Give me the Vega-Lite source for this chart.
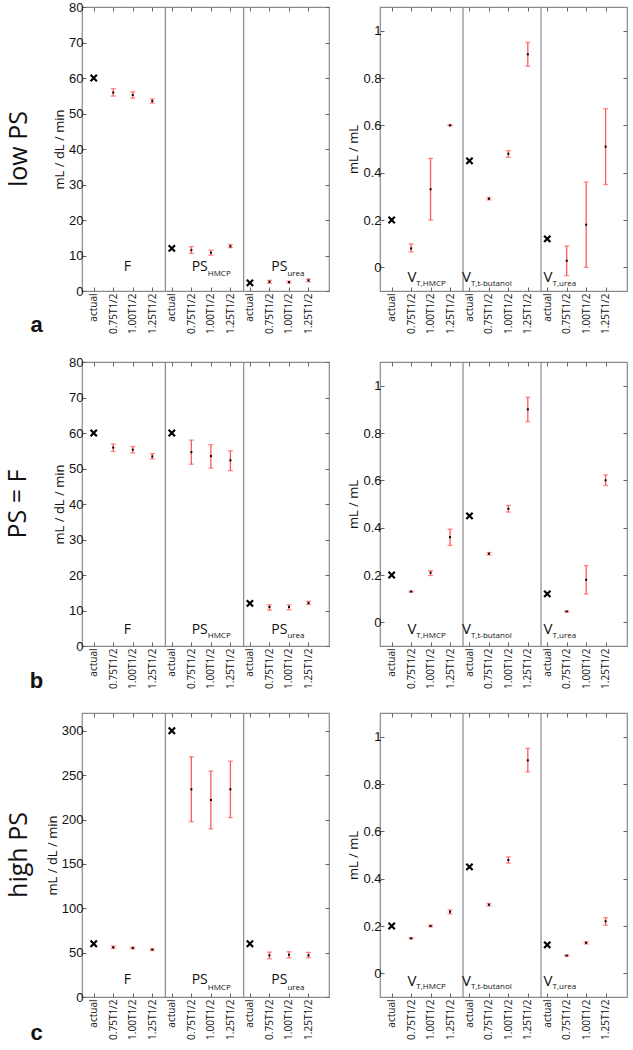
{
  "$schema": "https://vega.github.io/schema/vega-lite/v6.json",
  "padding": {"left": 5, "top": 0, "right": 0, "bottom": 0},
  "background": "white",
  "datasets": {
    "pts": [
      {"row":"a","side":"L","pos":1,"kind":"actual","v":60},
      {"row":"a","side":"L","pos":2,"kind":"est","v":55.9,"lo":54.9,"hi":57.0},
      {"row":"a","side":"L","pos":3,"kind":"est","v":55.2,"lo":54.3,"hi":56.1},
      {"row":"a","side":"L","pos":4,"kind":"est","v":53.5,"lo":52.9,"hi":54.1},
      {"row":"a","side":"L","pos":5,"kind":"actual","v":12},
      {"row":"a","side":"L","pos":6,"kind":"est","v":11.5,"lo":10.6,"hi":12.5},
      {"row":"a","side":"L","pos":7,"kind":"est","v":10.8,"lo":10.1,"hi":11.5},
      {"row":"a","side":"L","pos":8,"kind":"est","v":12.6,"lo":12.2,"hi":13.1},
      {"row":"a","side":"L","pos":9,"kind":"actual","v":2.3},
      {"row":"a","side":"L","pos":10,"kind":"est","v":2.6,"lo":2.2,"hi":3.0},
      {"row":"a","side":"L","pos":11,"kind":"est","v":2.5,"lo":2.2,"hi":2.8},
      {"row":"a","side":"L","pos":12,"kind":"est","v":3.0,"lo":2.6,"hi":3.4},
      {"row":"a","side":"R","pos":1,"kind":"actual","v":0.2},
      {"row":"a","side":"R","pos":2,"kind":"est","v":0.08,"lo":0.065,"hi":0.099},
      {"row":"a","side":"R","pos":3,"kind":"est","v":0.33,"lo":0.2,"hi":0.46},
      {"row":"a","side":"R","pos":4,"kind":"est","v":0.6,"lo":0.598,"hi":0.602},
      {"row":"a","side":"R","pos":5,"kind":"actual","v":0.45},
      {"row":"a","side":"R","pos":6,"kind":"est","v":0.29,"lo":0.285,"hi":0.295},
      {"row":"a","side":"R","pos":7,"kind":"est","v":0.48,"lo":0.465,"hi":0.493},
      {"row":"a","side":"R","pos":8,"kind":"est","v":0.9,"lo":0.85,"hi":0.95},
      {"row":"a","side":"R","pos":9,"kind":"actual","v":0.12},
      {"row":"a","side":"R","pos":10,"kind":"est","v":0.028,"lo":-0.035,"hi":0.09},
      {"row":"a","side":"R","pos":11,"kind":"est","v":0.18,"lo":0.0,"hi":0.36},
      {"row":"a","side":"R","pos":12,"kind":"est","v":0.51,"lo":0.35,"hi":0.67},
      {"row":"b","side":"L","pos":1,"kind":"actual","v":60},
      {"row":"b","side":"L","pos":2,"kind":"est","v":55.9,"lo":54.8,"hi":56.9},
      {"row":"b","side":"L","pos":3,"kind":"est","v":55.3,"lo":54.4,"hi":56.2},
      {"row":"b","side":"L","pos":4,"kind":"est","v":53.4,"lo":52.7,"hi":54.2},
      {"row":"b","side":"L","pos":5,"kind":"actual","v":60},
      {"row":"b","side":"L","pos":6,"kind":"est","v":54.6,"lo":51.2,"hi":58.0},
      {"row":"b","side":"L","pos":7,"kind":"est","v":53.5,"lo":50.1,"hi":56.7},
      {"row":"b","side":"L","pos":8,"kind":"est","v":52.3,"lo":49.4,"hi":55.0},
      {"row":"b","side":"L","pos":9,"kind":"actual","v":12},
      {"row":"b","side":"L","pos":10,"kind":"est","v":11.0,"lo":10.1,"hi":11.6},
      {"row":"b","side":"L","pos":11,"kind":"est","v":11.0,"lo":10.2,"hi":11.6},
      {"row":"b","side":"L","pos":12,"kind":"est","v":12.1,"lo":11.7,"hi":12.6},
      {"row":"b","side":"R","pos":1,"kind":"actual","v":0.2},
      {"row":"b","side":"R","pos":2,"kind":"est","v":0.13,"lo":0.128,"hi":0.132},
      {"row":"b","side":"R","pos":3,"kind":"est","v":0.21,"lo":0.198,"hi":0.218},
      {"row":"b","side":"R","pos":4,"kind":"est","v":0.36,"lo":0.325,"hi":0.394},
      {"row":"b","side":"R","pos":5,"kind":"actual","v":0.45},
      {"row":"b","side":"R","pos":6,"kind":"est","v":0.29,"lo":0.285,"hi":0.295},
      {"row":"b","side":"R","pos":7,"kind":"est","v":0.48,"lo":0.466,"hi":0.494},
      {"row":"b","side":"R","pos":8,"kind":"est","v":0.9,"lo":0.848,"hi":0.951},
      {"row":"b","side":"R","pos":9,"kind":"actual","v":0.12},
      {"row":"b","side":"R","pos":10,"kind":"est","v":0.046,"lo":0.044,"hi":0.048},
      {"row":"b","side":"R","pos":11,"kind":"est","v":0.18,"lo":0.12,"hi":0.24},
      {"row":"b","side":"R","pos":12,"kind":"est","v":0.6,"lo":0.578,"hi":0.623},
      {"row":"c","side":"L","pos":1,"kind":"actual","v":60},
      {"row":"c","side":"L","pos":2,"kind":"est","v":56,"lo":54.7,"hi":57.4},
      {"row":"c","side":"L","pos":3,"kind":"est","v":55.2,"lo":54.2,"hi":56.2},
      {"row":"c","side":"L","pos":4,"kind":"est","v":53.4,"lo":52.4,"hi":54.4},
      {"row":"c","side":"L","pos":5,"kind":"actual","v":300},
      {"row":"c","side":"L","pos":6,"kind":"est","v":234,"lo":197.6,"hi":270.7},
      {"row":"c","side":"L","pos":7,"kind":"est","v":222,"lo":189.4,"hi":254.6},
      {"row":"c","side":"L","pos":8,"kind":"est","v":234,"lo":202.1,"hi":265.8},
      {"row":"c","side":"L","pos":9,"kind":"actual","v":60},
      {"row":"c","side":"L","pos":10,"kind":"est","v":46.9,"lo":43.1,"hi":50.6},
      {"row":"c","side":"L","pos":11,"kind":"est","v":47.6,"lo":43.9,"hi":51.0},
      {"row":"c","side":"L","pos":12,"kind":"est","v":46.9,"lo":44.2,"hi":50.2},
      {"row":"c","side":"R","pos":1,"kind":"actual","v":0.2},
      {"row":"c","side":"R","pos":2,"kind":"est","v":0.148,"lo":0.146,"hi":0.15},
      {"row":"c","side":"R","pos":3,"kind":"est","v":0.2,"lo":0.196,"hi":0.204},
      {"row":"c","side":"R","pos":4,"kind":"est","v":0.26,"lo":0.251,"hi":0.268},
      {"row":"c","side":"R","pos":5,"kind":"actual","v":0.45},
      {"row":"c","side":"R","pos":6,"kind":"est","v":0.29,"lo":0.285,"hi":0.295},
      {"row":"c","side":"R","pos":7,"kind":"est","v":0.479,"lo":0.466,"hi":0.492},
      {"row":"c","side":"R","pos":8,"kind":"est","v":0.9,"lo":0.851,"hi":0.951},
      {"row":"c","side":"R","pos":9,"kind":"actual","v":0.12},
      {"row":"c","side":"R","pos":10,"kind":"est","v":0.075,"lo":0.073,"hi":0.077},
      {"row":"c","side":"R","pos":11,"kind":"est","v":0.129,"lo":0.124,"hi":0.134},
      {"row":"c","side":"R","pos":12,"kind":"est","v":0.22,"lo":0.203,"hi":0.235}
    ],
    "labs": [
      {"side":"L","pos":2.91,"main":"F","sub":""},
      {"side":"L","pos":6.84,"main":"PS","sub":"HMCP"},
      {"side":"L","pos":10.92,"main":"PS","sub":"urea"},
      {"side":"R","pos":2.27,"main":"V","sub":"T,HMCP"},
      {"side":"R","pos":5.08,"main":"V","sub":"T,t-butanol"},
      {"side":"R","pos":9.27,"main":"V","sub":"T,urea"}
    ],
    "seps": [{"sep":4.67},{"sep":8.68}]
  },
  "columns": 2,
  "spacing": {"row": 19, "column": 16},
  "concat": [
    {
      "width": 247, "height": 284,
      "title": {"text": "low PS", "orient": "left", "anchor": "middle", "font": "Open Sans", "fontSize": 25, "fontWeight": "normal", "color": "#111", "offset": -2},
      "layer": [
        {"data": {"name": "pts"}, "transform": [{"filter": "datum.row==='a' && datum.side==='L' && datum.kind==='est'"}],
         "mark": {"type": "rule", "color": "#ff5a5a", "strokeWidth": 1.3},
         "encoding": {
           "x": {"field": "pos", "type": "quantitative", "scale": {"domain": [0.4, 13.05], "nice": false, "zero": false},
                 "axis": {"orient": "bottom", "values": [1,2,3,4,5,6,7,8,9,10,11,12], "labelExpr": "['actual','0.75T1/2','1.00T1/2','1.25T1/2'][(datum.value-1)%4]", "labelAngle": -90, "labelFont": "Open Sans", "labelFontSize": 10, "labelPadding": 6,
                          "title": "a", "titleX": -46, "titleY": 40, "titleFont": "Liberation Sans", "titleFontSize": 22, "titleFontWeight": "bold", "titleBaseline": "alphabetic", "titleAlign": "center"}},
           "y": {"field": "lo", "type": "quantitative", "scale": {"domain": [0, 80], "nice": false, "zero": false},
                 "axis": {"orient": "left", "values": [0,10,20,30,40,50,60,70,80], "title": "mL / dL / min"}},
           "y2": {"field": "hi"}
         }},
        {"data": {"name": "pts"}, "transform": [{"filter": "datum.row==='a' && datum.side==='L' && datum.kind==='actual'"}],
         "mark": {"type": "point", "shape": "M-1,-1L1,1M1,-1L-1,1", "filled": false, "stroke": "black", "strokeWidth": 2.2, "size": 40, "opacity": 1},
         "encoding": {
           "x": {"field": "pos", "type": "quantitative", "scale": {"domain": [0.4, 13.05], "nice": false, "zero": false}, "axis": {"orient": "top", "values": [1,2,3,4,5,6,7,8,9,10,11,12], "labels": false, "title": null}},
           "y": {"field": "v", "type": "quantitative", "scale": {"domain": [0, 80], "nice": false, "zero": false}, "axis": {"orient": "right", "values": [0,10,20,30,40,50,60,70,80], "labels": false, "title": null}}
         }},
        {"data": {"name": "pts"}, "transform": [{"filter": "datum.row==='a' && datum.side==='L' && datum.kind==='est'"}],
         "mark": {"type": "tick", "orient": "horizontal", "color": "#ff5a5a", "size": 5, "thickness": 1.3},
         "encoding": {"x": {"field": "pos", "type": "quantitative", "axis": null}, "y": {"field": "lo", "type": "quantitative", "axis": null}}},
        {"data": {"name": "pts"}, "transform": [{"filter": "datum.row==='a' && datum.side==='L' && datum.kind==='est'"}],
         "mark": {"type": "tick", "orient": "horizontal", "color": "#ff5a5a", "size": 5, "thickness": 1.3},
         "encoding": {"x": {"field": "pos", "type": "quantitative", "axis": null}, "y": {"field": "hi", "type": "quantitative", "axis": null}}},
        {"data": {"name": "pts"}, "transform": [{"filter": "datum.row==='a' && datum.side==='L' && datum.kind==='est'"}],
         "mark": {"type": "square", "filled": true, "color": "black", "size": 4, "opacity": 1},
         "encoding": {"x": {"field": "pos", "type": "quantitative", "axis": null}, "y": {"field": "v", "type": "quantitative", "axis": null}}},
        {"data": {"name": "seps"}, "mark": {"type": "rule", "color": "#8a8a8a", "strokeWidth": 1.2},
         "encoding": {"x": {"field": "sep", "type": "quantitative", "axis": null}}},
        {"data": {"name": "labs"}, "transform": [{"filter": "datum.side==='L'"}],
         "mark": {"type": "text", "align": "right", "baseline": "alphabetic", "dy": -20, "font": "Open Sans", "fontSize": 14, "color": "#111"},
         "encoding": {"x": {"field": "pos", "type": "quantitative", "axis": null}, "y": {"datum": 0, "type": "quantitative", "axis": null}, "text": {"field": "main"}}},
        {"data": {"name": "labs"}, "transform": [{"filter": "datum.side==='L'"}],
         "mark": {"type": "text", "align": "left", "baseline": "alphabetic", "dy": -15, "font": "Open Sans", "fontSize": 8, "color": "#111"},
         "encoding": {"x": {"field": "pos", "type": "quantitative", "axis": null}, "y": {"datum": 0, "type": "quantitative", "axis": null}, "text": {"field": "sub"}}}
      ]
    },
    {
      "width": 247, "height": 284,
      "layer": [
        {"data": {"name": "pts"}, "transform": [{"filter": "datum.row==='a' && datum.side==='R' && datum.kind==='est'"}],
         "mark": {"type": "rule", "color": "#ff5a5a", "strokeWidth": 1.3},
         "encoding": {
           "x": {"field": "pos", "type": "quantitative", "scale": {"domain": [0.4, 13.1], "nice": false, "zero": false},
                 "axis": {"orient": "bottom", "values": [1,2,3,4,5,6,7,8,9,10,11,12], "labelExpr": "['actual','0.75T1/2','1.00T1/2','1.25T1/2'][(datum.value-1)%4]", "labelAngle": -90, "labelFont": "Open Sans", "labelFontSize": 10, "labelPadding": 6, "title": null}},
           "y": {"field": "lo", "type": "quantitative", "scale": {"domain": [-0.1, 1.1], "nice": false, "zero": false},
                 "axis": {"orient": "left", "values": [0,0.2,0.4,0.6,0.8,1], "format": "~g", "title": "mL / mL"}},
           "y2": {"field": "hi"}
         }},
        {"data": {"name": "pts"}, "transform": [{"filter": "datum.row==='a' && datum.side==='R' && datum.kind==='actual'"}],
         "mark": {"type": "point", "shape": "M-1,-1L1,1M1,-1L-1,1", "filled": false, "stroke": "black", "strokeWidth": 2.2, "size": 40, "opacity": 1},
         "encoding": {
           "x": {"field": "pos", "type": "quantitative", "scale": {"domain": [0.4, 13.1], "nice": false, "zero": false}, "axis": {"orient": "top", "values": [1,2,3,4,5,6,7,8,9,10,11,12], "labels": false, "title": null}},
           "y": {"field": "v", "type": "quantitative", "scale": {"domain": [-0.1, 1.1], "nice": false, "zero": false}, "axis": {"orient": "right", "values": [0,0.2,0.4,0.6,0.8,1], "labels": false, "title": null}}
         }},
        {"data": {"name": "pts"}, "transform": [{"filter": "datum.row==='a' && datum.side==='R' && datum.kind==='est'"}],
         "mark": {"type": "tick", "orient": "horizontal", "color": "#ff5a5a", "size": 5, "thickness": 1.3},
         "encoding": {"x": {"field": "pos", "type": "quantitative", "axis": null}, "y": {"field": "lo", "type": "quantitative", "axis": null}}},
        {"data": {"name": "pts"}, "transform": [{"filter": "datum.row==='a' && datum.side==='R' && datum.kind==='est'"}],
         "mark": {"type": "tick", "orient": "horizontal", "color": "#ff5a5a", "size": 5, "thickness": 1.3},
         "encoding": {"x": {"field": "pos", "type": "quantitative", "axis": null}, "y": {"field": "hi", "type": "quantitative", "axis": null}}},
        {"data": {"name": "pts"}, "transform": [{"filter": "datum.row==='a' && datum.side==='R' && datum.kind==='est'"}],
         "mark": {"type": "square", "filled": true, "color": "black", "size": 4, "opacity": 1},
         "encoding": {"x": {"field": "pos", "type": "quantitative", "axis": null}, "y": {"field": "v", "type": "quantitative", "axis": null}}},
        {"data": {"name": "seps"}, "mark": {"type": "rule", "color": "#8a8a8a", "strokeWidth": 1.2},
         "encoding": {"x": {"field": "sep", "type": "quantitative", "axis": null}}},
        {"data": {"name": "labs"}, "transform": [{"filter": "datum.side==='R'"}],
         "mark": {"type": "text", "align": "right", "baseline": "alphabetic", "dy": -9, "font": "Open Sans", "fontSize": 15, "color": "#111"},
         "encoding": {"x": {"field": "pos", "type": "quantitative", "axis": null}, "y": {"datum": -0.1, "type": "quantitative", "axis": null}, "text": {"field": "main"}}},
        {"data": {"name": "labs"}, "transform": [{"filter": "datum.side==='R'"}],
         "mark": {"type": "text", "align": "left", "baseline": "alphabetic", "dy": -5, "font": "Open Sans", "fontSize": 8, "color": "#111"},
         "encoding": {"x": {"field": "pos", "type": "quantitative", "axis": null}, "y": {"datum": -0.1, "type": "quantitative", "axis": null}, "text": {"field": "sub"}}}
      ]
    },
    {
      "width": 247, "height": 284,
      "title": {"text": "PS = F", "orient": "left", "anchor": "middle", "font": "Open Sans", "fontSize": 25, "fontWeight": "normal", "color": "#111", "offset": -2},
      "layer": [
        {"data": {"name": "pts"}, "transform": [{"filter": "datum.row==='b' && datum.side==='L' && datum.kind==='est'"}],
         "mark": {"type": "rule", "color": "#ff5a5a", "strokeWidth": 1.3},
         "encoding": {
           "x": {"field": "pos", "type": "quantitative", "scale": {"domain": [0.4, 13.05], "nice": false, "zero": false},
                 "axis": {"orient": "bottom", "values": [1,2,3,4,5,6,7,8,9,10,11,12], "labelExpr": "['actual','0.75T1/2','1.00T1/2','1.25T1/2'][(datum.value-1)%4]", "labelAngle": -90, "labelFont": "Open Sans", "labelFontSize": 10, "labelPadding": 6,
                          "title": "b", "titleX": -46, "titleY": 41, "titleFont": "Liberation Sans", "titleFontSize": 22, "titleFontWeight": "bold", "titleBaseline": "alphabetic", "titleAlign": "center"}},
           "y": {"field": "lo", "type": "quantitative", "scale": {"domain": [0, 80], "nice": false, "zero": false},
                 "axis": {"orient": "left", "values": [0,10,20,30,40,50,60,70,80], "title": "mL / dL / min"}},
           "y2": {"field": "hi"}
         }},
        {"data": {"name": "pts"}, "transform": [{"filter": "datum.row==='b' && datum.side==='L' && datum.kind==='actual'"}],
         "mark": {"type": "point", "shape": "M-1,-1L1,1M1,-1L-1,1", "filled": false, "stroke": "black", "strokeWidth": 2.2, "size": 40, "opacity": 1},
         "encoding": {
           "x": {"field": "pos", "type": "quantitative", "scale": {"domain": [0.4, 13.05], "nice": false, "zero": false}, "axis": {"orient": "top", "values": [1,2,3,4,5,6,7,8,9,10,11,12], "labels": false, "title": null}},
           "y": {"field": "v", "type": "quantitative", "scale": {"domain": [0, 80], "nice": false, "zero": false}, "axis": {"orient": "right", "values": [0,10,20,30,40,50,60,70,80], "labels": false, "title": null}}
         }},
        {"data": {"name": "pts"}, "transform": [{"filter": "datum.row==='b' && datum.side==='L' && datum.kind==='est'"}],
         "mark": {"type": "tick", "orient": "horizontal", "color": "#ff5a5a", "size": 5, "thickness": 1.3},
         "encoding": {"x": {"field": "pos", "type": "quantitative", "axis": null}, "y": {"field": "lo", "type": "quantitative", "axis": null}}},
        {"data": {"name": "pts"}, "transform": [{"filter": "datum.row==='b' && datum.side==='L' && datum.kind==='est'"}],
         "mark": {"type": "tick", "orient": "horizontal", "color": "#ff5a5a", "size": 5, "thickness": 1.3},
         "encoding": {"x": {"field": "pos", "type": "quantitative", "axis": null}, "y": {"field": "hi", "type": "quantitative", "axis": null}}},
        {"data": {"name": "pts"}, "transform": [{"filter": "datum.row==='b' && datum.side==='L' && datum.kind==='est'"}],
         "mark": {"type": "square", "filled": true, "color": "black", "size": 4, "opacity": 1},
         "encoding": {"x": {"field": "pos", "type": "quantitative", "axis": null}, "y": {"field": "v", "type": "quantitative", "axis": null}}},
        {"data": {"name": "seps"}, "mark": {"type": "rule", "color": "#8a8a8a", "strokeWidth": 1.2},
         "encoding": {"x": {"field": "sep", "type": "quantitative", "axis": null}}},
        {"data": {"name": "labs"}, "transform": [{"filter": "datum.side==='L'"}],
         "mark": {"type": "text", "align": "right", "baseline": "alphabetic", "dy": -12, "font": "Open Sans", "fontSize": 14, "color": "#111"},
         "encoding": {"x": {"field": "pos", "type": "quantitative", "axis": null}, "y": {"datum": 0, "type": "quantitative", "axis": null}, "text": {"field": "main"}}},
        {"data": {"name": "labs"}, "transform": [{"filter": "datum.side==='L'"}],
         "mark": {"type": "text", "align": "left", "baseline": "alphabetic", "dy": -8, "font": "Open Sans", "fontSize": 8, "color": "#111"},
         "encoding": {"x": {"field": "pos", "type": "quantitative", "axis": null}, "y": {"datum": 0, "type": "quantitative", "axis": null}, "text": {"field": "sub"}}}
      ]
    },
    {
      "width": 247, "height": 284,
      "layer": [
        {"data": {"name": "pts"}, "transform": [{"filter": "datum.row==='b' && datum.side==='R' && datum.kind==='est'"}],
         "mark": {"type": "rule", "color": "#ff5a5a", "strokeWidth": 1.3},
         "encoding": {
           "x": {"field": "pos", "type": "quantitative", "scale": {"domain": [0.4, 13.1], "nice": false, "zero": false},
                 "axis": {"orient": "bottom", "values": [1,2,3,4,5,6,7,8,9,10,11,12], "labelExpr": "['actual','0.75T1/2','1.00T1/2','1.25T1/2'][(datum.value-1)%4]", "labelAngle": -90, "labelFont": "Open Sans", "labelFontSize": 10, "labelPadding": 6, "title": null}},
           "y": {"field": "lo", "type": "quantitative", "scale": {"domain": [-0.1, 1.1], "nice": false, "zero": false},
                 "axis": {"orient": "left", "values": [0,0.2,0.4,0.6,0.8,1], "format": "~g", "title": "mL / mL"}},
           "y2": {"field": "hi"}
         }},
        {"data": {"name": "pts"}, "transform": [{"filter": "datum.row==='b' && datum.side==='R' && datum.kind==='actual'"}],
         "mark": {"type": "point", "shape": "M-1,-1L1,1M1,-1L-1,1", "filled": false, "stroke": "black", "strokeWidth": 2.2, "size": 40, "opacity": 1},
         "encoding": {
           "x": {"field": "pos", "type": "quantitative", "scale": {"domain": [0.4, 13.1], "nice": false, "zero": false}, "axis": {"orient": "top", "values": [1,2,3,4,5,6,7,8,9,10,11,12], "labels": false, "title": null}},
           "y": {"field": "v", "type": "quantitative", "scale": {"domain": [-0.1, 1.1], "nice": false, "zero": false}, "axis": {"orient": "right", "values": [0,0.2,0.4,0.6,0.8,1], "labels": false, "title": null}}
         }},
        {"data": {"name": "pts"}, "transform": [{"filter": "datum.row==='b' && datum.side==='R' && datum.kind==='est'"}],
         "mark": {"type": "tick", "orient": "horizontal", "color": "#ff5a5a", "size": 5, "thickness": 1.3},
         "encoding": {"x": {"field": "pos", "type": "quantitative", "axis": null}, "y": {"field": "lo", "type": "quantitative", "axis": null}}},
        {"data": {"name": "pts"}, "transform": [{"filter": "datum.row==='b' && datum.side==='R' && datum.kind==='est'"}],
         "mark": {"type": "tick", "orient": "horizontal", "color": "#ff5a5a", "size": 5, "thickness": 1.3},
         "encoding": {"x": {"field": "pos", "type": "quantitative", "axis": null}, "y": {"field": "hi", "type": "quantitative", "axis": null}}},
        {"data": {"name": "pts"}, "transform": [{"filter": "datum.row==='b' && datum.side==='R' && datum.kind==='est'"}],
         "mark": {"type": "square", "filled": true, "color": "black", "size": 4, "opacity": 1},
         "encoding": {"x": {"field": "pos", "type": "quantitative", "axis": null}, "y": {"field": "v", "type": "quantitative", "axis": null}}},
        {"data": {"name": "seps"}, "mark": {"type": "rule", "color": "#8a8a8a", "strokeWidth": 1.2},
         "encoding": {"x": {"field": "sep", "type": "quantitative", "axis": null}}},
        {"data": {"name": "labs"}, "transform": [{"filter": "datum.side==='R'"}],
         "mark": {"type": "text", "align": "right", "baseline": "alphabetic", "dy": -12, "font": "Open Sans", "fontSize": 15, "color": "#111"},
         "encoding": {"x": {"field": "pos", "type": "quantitative", "axis": null}, "y": {"datum": -0.1, "type": "quantitative", "axis": null}, "text": {"field": "main"}}},
        {"data": {"name": "labs"}, "transform": [{"filter": "datum.side==='R'"}],
         "mark": {"type": "text", "align": "left", "baseline": "alphabetic", "dy": -8, "font": "Open Sans", "fontSize": 8, "color": "#111"},
         "encoding": {"x": {"field": "pos", "type": "quantitative", "axis": null}, "y": {"datum": -0.1, "type": "quantitative", "axis": null}, "text": {"field": "sub"}}}
      ]
    },
    {
      "width": 247, "height": 284,
      "title": {"text": "high PS", "orient": "left", "anchor": "middle", "font": "Open Sans", "fontSize": 25, "fontWeight": "normal", "color": "#111", "offset": -2},
      "layer": [
        {"data": {"name": "pts"}, "transform": [{"filter": "datum.row==='c' && datum.side==='L' && datum.kind==='est'"}],
         "mark": {"type": "rule", "color": "#ff5a5a", "strokeWidth": 1.3},
         "encoding": {
           "x": {"field": "pos", "type": "quantitative", "scale": {"domain": [0.4, 13.05], "nice": false, "zero": false},
                 "axis": {"orient": "bottom", "values": [1,2,3,4,5,6,7,8,9,10,11,12], "labelExpr": "['actual','0.75T1/2','1.00T1/2','1.25T1/2'][(datum.value-1)%4]", "labelAngle": -90, "labelFont": "Open Sans", "labelFontSize": 10, "labelPadding": 6,
                          "title": "c", "titleX": -46, "titleY": 42, "titleFont": "Liberation Sans", "titleFontSize": 22, "titleFontWeight": "bold", "titleBaseline": "alphabetic", "titleAlign": "center"}},
           "y": {"field": "lo", "type": "quantitative", "scale": {"domain": [0, 320], "nice": false, "zero": false},
                 "axis": {"orient": "left", "values": [0,50,100,150,200,250,300], "title": "mL / dL / min"}},
           "y2": {"field": "hi"}
         }},
        {"data": {"name": "pts"}, "transform": [{"filter": "datum.row==='c' && datum.side==='L' && datum.kind==='actual'"}],
         "mark": {"type": "point", "shape": "M-1,-1L1,1M1,-1L-1,1", "filled": false, "stroke": "black", "strokeWidth": 2.2, "size": 40, "opacity": 1},
         "encoding": {
           "x": {"field": "pos", "type": "quantitative", "scale": {"domain": [0.4, 13.05], "nice": false, "zero": false}, "axis": {"orient": "top", "values": [1,2,3,4,5,6,7,8,9,10,11,12], "labels": false, "title": null}},
           "y": {"field": "v", "type": "quantitative", "scale": {"domain": [0, 320], "nice": false, "zero": false}, "axis": {"orient": "right", "values": [0,50,100,150,200,250,300], "labels": false, "title": null}}
         }},
        {"data": {"name": "pts"}, "transform": [{"filter": "datum.row==='c' && datum.side==='L' && datum.kind==='est'"}],
         "mark": {"type": "tick", "orient": "horizontal", "color": "#ff5a5a", "size": 5, "thickness": 1.3},
         "encoding": {"x": {"field": "pos", "type": "quantitative", "axis": null}, "y": {"field": "lo", "type": "quantitative", "axis": null}}},
        {"data": {"name": "pts"}, "transform": [{"filter": "datum.row==='c' && datum.side==='L' && datum.kind==='est'"}],
         "mark": {"type": "tick", "orient": "horizontal", "color": "#ff5a5a", "size": 5, "thickness": 1.3},
         "encoding": {"x": {"field": "pos", "type": "quantitative", "axis": null}, "y": {"field": "hi", "type": "quantitative", "axis": null}}},
        {"data": {"name": "pts"}, "transform": [{"filter": "datum.row==='c' && datum.side==='L' && datum.kind==='est'"}],
         "mark": {"type": "square", "filled": true, "color": "black", "size": 4, "opacity": 1},
         "encoding": {"x": {"field": "pos", "type": "quantitative", "axis": null}, "y": {"field": "v", "type": "quantitative", "axis": null}}},
        {"data": {"name": "seps"}, "mark": {"type": "rule", "color": "#8a8a8a", "strokeWidth": 1.2},
         "encoding": {"x": {"field": "sep", "type": "quantitative", "axis": null}}},
        {"data": {"name": "labs"}, "transform": [{"filter": "datum.side==='L'"}],
         "mark": {"type": "text", "align": "right", "baseline": "alphabetic", "dy": -13, "font": "Open Sans", "fontSize": 14, "color": "#111"},
         "encoding": {"x": {"field": "pos", "type": "quantitative", "axis": null}, "y": {"datum": 0, "type": "quantitative", "axis": null}, "text": {"field": "main"}}},
        {"data": {"name": "labs"}, "transform": [{"filter": "datum.side==='L'"}],
         "mark": {"type": "text", "align": "left", "baseline": "alphabetic", "dy": -7, "font": "Open Sans", "fontSize": 8, "color": "#111"},
         "encoding": {"x": {"field": "pos", "type": "quantitative", "axis": null}, "y": {"datum": 0, "type": "quantitative", "axis": null}, "text": {"field": "sub"}}}
      ]
    },
    {
      "width": 247, "height": 284,
      "layer": [
        {"data": {"name": "pts"}, "transform": [{"filter": "datum.row==='c' && datum.side==='R' && datum.kind==='est'"}],
         "mark": {"type": "rule", "color": "#ff5a5a", "strokeWidth": 1.3},
         "encoding": {
           "x": {"field": "pos", "type": "quantitative", "scale": {"domain": [0.4, 13.1], "nice": false, "zero": false},
                 "axis": {"orient": "bottom", "values": [1,2,3,4,5,6,7,8,9,10,11,12], "labelExpr": "['actual','0.75T1/2','1.00T1/2','1.25T1/2'][(datum.value-1)%4]", "labelAngle": -90, "labelFont": "Open Sans", "labelFontSize": 10, "labelPadding": 6, "title": null}},
           "y": {"field": "lo", "type": "quantitative", "scale": {"domain": [-0.1, 1.1], "nice": false, "zero": false},
                 "axis": {"orient": "left", "values": [0,0.2,0.4,0.6,0.8,1], "format": "~g", "title": "mL / mL"}},
           "y2": {"field": "hi"}
         }},
        {"data": {"name": "pts"}, "transform": [{"filter": "datum.row==='c' && datum.side==='R' && datum.kind==='actual'"}],
         "mark": {"type": "point", "shape": "M-1,-1L1,1M1,-1L-1,1", "filled": false, "stroke": "black", "strokeWidth": 2.2, "size": 40, "opacity": 1},
         "encoding": {
           "x": {"field": "pos", "type": "quantitative", "scale": {"domain": [0.4, 13.1], "nice": false, "zero": false}, "axis": {"orient": "top", "values": [1,2,3,4,5,6,7,8,9,10,11,12], "labels": false, "title": null}},
           "y": {"field": "v", "type": "quantitative", "scale": {"domain": [-0.1, 1.1], "nice": false, "zero": false}, "axis": {"orient": "right", "values": [0,0.2,0.4,0.6,0.8,1], "labels": false, "title": null}}
         }},
        {"data": {"name": "pts"}, "transform": [{"filter": "datum.row==='c' && datum.side==='R' && datum.kind==='est'"}],
         "mark": {"type": "tick", "orient": "horizontal", "color": "#ff5a5a", "size": 5, "thickness": 1.3},
         "encoding": {"x": {"field": "pos", "type": "quantitative", "axis": null}, "y": {"field": "lo", "type": "quantitative", "axis": null}}},
        {"data": {"name": "pts"}, "transform": [{"filter": "datum.row==='c' && datum.side==='R' && datum.kind==='est'"}],
         "mark": {"type": "tick", "orient": "horizontal", "color": "#ff5a5a", "size": 5, "thickness": 1.3},
         "encoding": {"x": {"field": "pos", "type": "quantitative", "axis": null}, "y": {"field": "hi", "type": "quantitative", "axis": null}}},
        {"data": {"name": "pts"}, "transform": [{"filter": "datum.row==='c' && datum.side==='R' && datum.kind==='est'"}],
         "mark": {"type": "square", "filled": true, "color": "black", "size": 4, "opacity": 1},
         "encoding": {"x": {"field": "pos", "type": "quantitative", "axis": null}, "y": {"field": "v", "type": "quantitative", "axis": null}}},
        {"data": {"name": "seps"}, "mark": {"type": "rule", "color": "#8a8a8a", "strokeWidth": 1.2},
         "encoding": {"x": {"field": "sep", "type": "quantitative", "axis": null}}},
        {"data": {"name": "labs"}, "transform": [{"filter": "datum.side==='R'"}],
         "mark": {"type": "text", "align": "right", "baseline": "alphabetic", "dy": -11, "font": "Open Sans", "fontSize": 15, "color": "#111"},
         "encoding": {"x": {"field": "pos", "type": "quantitative", "axis": null}, "y": {"datum": -0.1, "type": "quantitative", "axis": null}, "text": {"field": "main"}}},
        {"data": {"name": "labs"}, "transform": [{"filter": "datum.side==='R'"}],
         "mark": {"type": "text", "align": "left", "baseline": "alphabetic", "dy": -8, "font": "Open Sans", "fontSize": 8, "color": "#111"},
         "encoding": {"x": {"field": "pos", "type": "quantitative", "axis": null}, "y": {"datum": -0.1, "type": "quantitative", "axis": null}, "text": {"field": "sub"}}}
      ]
    }
  ],
  "config": {
    "view": {"stroke": "#8a8a8a", "strokeWidth": 1.2},
    "axis": {"domain": false, "grid": false, "ticks": true, "tickColor": "#666", "tickSize": -4, "tickWidth": 1, "labelColor": "#111", "titleColor": "#111"},
    "axisY": {"labelFont": "Liberation Sans", "labelFontSize": 13, "labelPadding": 3, "titleFont": "Open Sans", "titleFontSize": 13, "titleFontWeight": "normal", "titlePadding": 2}
  }
}
